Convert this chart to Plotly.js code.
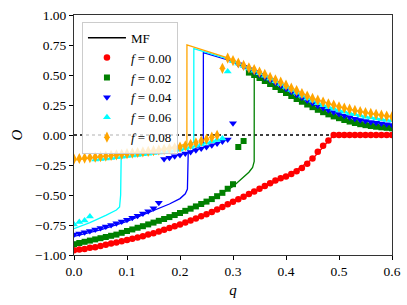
<!DOCTYPE html>
<html>
<head>
<meta charset="utf-8">
<script src="https://cdn.plot.ly/plotly-3.0.1.min.js"></script>
<style>html,body{margin:0;padding:0;background:#fff;}#chart{width:407px;height:305px;}</style>
</head>
<body>
<div id="chart"></div>
<script>
// Simulation points: q grid (shared by all f)
const qGrid = [0.00,0.01,0.02,0.03,0.04,0.05,0.06,0.07,0.08,0.09,
  0.10,0.11,0.12,0.13,0.14,0.15,0.16,0.17,0.18,0.19,
  0.20,0.21,0.22,0.23,0.24,0.25,0.26,0.27,0.28,0.29,
  0.30,0.31,0.32,0.33,0.34,0.35,0.36,0.37,0.38,0.39,
  0.40,0.41,0.42,0.43,0.44,0.45,0.46,0.47,0.48,0.49,
  0.50,0.51,0.52,0.53,0.54,0.55,0.56,0.57,0.58,0.59,0.60];

const oF000 = [-0.96,-0.955,-0.95,-0.94,-0.935,-0.925,-0.915,-0.905,-0.895,-0.885,
  -0.875,-0.865,-0.855,-0.843,-0.83,-0.818,-0.805,-0.79,-0.775,-0.76,
  -0.745,-0.73,-0.713,-0.696,-0.678,-0.66,-0.641,-0.621,-0.6,-0.578,
  -0.556,-0.535,-0.514,-0.492,-0.47,-0.447,-0.424,-0.402,-0.38,-0.36,
  -0.345,-0.325,-0.302,-0.275,-0.24,-0.195,-0.14,-0.09,-0.045,0,
  0,0,0,0,0,0,0,0,0,0,0];

const oF002 = [-0.91,-0.90,-0.89,-0.88,-0.87,-0.86,-0.85,-0.84,-0.83,-0.815,
  -0.80,-0.787,-0.773,-0.76,-0.745,-0.73,-0.715,-0.70,-0.684,-0.667,
  -0.65,-0.632,-0.614,-0.595,-0.575,-0.555,-0.534,-0.51,-0.482,-0.448,
  -0.41,-0.10,-0.05,0.52,0.50,0.475,0.45,0.425,0.40,0.375,
  0.35,0.325,0.30,0.277,0.254,0.232,0.21,0.19,0.172,0.155,
  0.14,0.125,0.112,0.10,0.09,0.082,0.075,0.069,0.064,0.06,0.056];

const oF004 = [-0.83,-0.82,-0.81,-0.80,-0.787,-0.775,-0.763,-0.75,-0.736,-0.721,
  -0.706,-0.69,-0.673,-0.655,-0.635,-0.61,-0.565,-0.2,-0.19,-0.178,
  -0.167,-0.155,-0.142,-0.127,-0.112,-0.1,-0.086,-0.071,-0.055,-0.037,
  0.097,0.59,0.568,0.547,0.525,0.503,0.48,0.457,0.433,0.41,
  0.385,0.36,0.336,0.312,0.288,0.265,0.244,0.225,0.207,0.19,
  0.175,0.161,0.148,0.136,0.126,0.117,0.109,0.102,0.095,0.089,0.083];

const oF006 = [-0.745,-0.725,-0.712,-0.68,-0.205,-0.2,-0.196,-0.191,-0.186,-0.181,
  -0.176,-0.171,-0.166,-0.161,-0.156,-0.151,-0.145,-0.14,-0.134,-0.127,
  -0.12,-0.111,-0.1,-0.089,-0.077,-0.065,-0.053,-0.041,-0.03,0.53,
  0.615,0.595,0.575,0.555,0.535,0.515,0.493,0.47,0.448,0.425,
  0.40,0.375,0.352,0.328,0.305,0.285,0.265,0.248,0.232,0.218,
  0.205,0.193,0.182,0.172,0.162,0.153,0.145,0.138,0.131,0.125,0.12];

const oF008 = [-0.2,-0.196,-0.192,-0.188,-0.184,-0.18,-0.176,-0.171,-0.166,-0.161,
  -0.156,-0.151,-0.146,-0.141,-0.136,-0.131,-0.125,-0.119,-0.113,-0.107,
  -0.1,-0.09,-0.078,-0.065,-0.05,-0.035,-0.018,-0.002,0.556,0.64,
  0.62,0.60,0.58,0.56,0.545,0.525,0.505,0.48,0.46,0.44,
  0.415,0.39,0.37,0.345,0.325,0.305,0.29,0.275,0.26,0.25,
  0.235,0.225,0.215,0.205,0.195,0.187,0.18,0.172,0.165,0.158,0.153];

// Mean-field (MF) curves
const mfQ000 = [0,0.1,0.2,0.3,0.4,0.45,0.47,0.49,0.6];
const mfO000 = [-0.965,-0.878,-0.748,-0.56,-0.35,-0.2,-0.1,0,0];

const mfQ002 = [0,0.1,0.2,0.25,0.3,0.32,0.33,0.337,0.34,0.3401,0.36,0.4,0.45,0.5,0.55,0.6];
const mfO002 = [-0.92,-0.81,-0.66,-0.565,-0.43,-0.35,-0.31,-0.27,-0.22,0.52,0.455,0.355,0.235,0.14,0.083,0.057];

const mfQ004 = [0,0.05,0.1,0.15,0.18,0.2,0.21,0.214,0.2155,0.23,0.244,0.2441,0.29,0.31,0.35,0.4,0.45,0.5,0.55,0.6];
const mfO004 = [-0.845,-0.79,-0.72,-0.63,-0.575,-0.53,-0.49,-0.45,-0.15,-0.11,-0.07,0.686,0.625,0.59,0.503,0.385,0.265,0.175,0.117,0.083];

const mfQ006 = [0,0.03,0.06,0.08,0.086,0.088,0.089,0.12,0.15,0.2,0.226,0.2261,0.29,0.3,0.35,0.4,0.45,0.5,0.55,0.6];
const mfO006 = [-0.78,-0.73,-0.67,-0.625,-0.6,-0.5,-0.19,-0.165,-0.145,-0.1,-0.06,0.72,0.635,0.615,0.515,0.40,0.285,0.205,0.153,0.12];

const mfQ008 = [0,0.1,0.15,0.2,0.213,0.2131,0.29,0.35,0.4,0.45,0.5,0.55,0.6];
const mfO008 = [-0.21,-0.16,-0.13,-0.09,-0.07,0.75,0.643,0.525,0.415,0.305,0.235,0.187,0.153];

const refQ = [0, 0.6];
const refO = [0, 0];

const fLabels = ['<i>f</i> = 0.00','<i>f</i> = 0.02','<i>f</i> = 0.04','<i>f</i> = 0.06','<i>f</i> = 0.08'];
const colors = ['#ff0000','#008000','#0000ff','#00ffff','#ffa500'];
const symbols = ['circle','square','triangle-down','triangle-up','diamond-tall'];
const sizes = [6.5,6,7,7,8];
const simO = [oF000,oF002,oF004,oF006,oF008];
const mfQ = [mfQ000,mfQ002,mfQ004,mfQ006,mfQ008];
const mfO = [mfO000,mfO002,mfO004,mfO006,mfO008];

const traces = [];
traces.push({x: refQ, y: refO, mode:'lines', line:{color:'#000', width:1.3, dash:'dot'}, showlegend:false, hoverinfo:'skip'});
for (let i=0;i<5;i++){
  traces.push({x: mfQ[i], y: mfO[i], mode:'lines', line:{color:colors[i], width:1.3}, showlegend:false});
}
traces.push({x:[null], y:[null], mode:'lines', line:{color:'#000', width:1.5}, name:'MF'});
for (let i=0;i<5;i++){
  traces.push({x: qGrid, y: simO[i], mode:'markers', name: fLabels[i],
    marker:{color:colors[i], symbol:symbols[i], size:sizes[i], line:{width:0}}});
}

const fontFam = 'Liberation Serif, Times New Roman, DejaVu Serif, serif';
const layout = {
  width:407, height:305,
  margin:{l:74, r:15, t:15, b:50},
  paper_bgcolor:'#fff', plot_bgcolor:'#fff',
  font:{family:fontFam, size:13.5, color:'#000'},
  xaxis:{range:[0,0.6], dtick:0.1, tick0:0, tickformat:'.1f', ticks:'outside', ticklen:4, tickcolor:'#000',
    showline:true, mirror:true, linecolor:'#333', linewidth:1, showgrid:false, zeroline:false,
    title:{text:'<i>q</i>', font:{size:15, family:fontFam}, standoff:6}},
  yaxis:{range:[-1,1], dtick:0.25, tick0:0, tickformat:'.2f', ticks:'outside', ticklen:4, tickcolor:'#000',
    showline:true, mirror:true, linecolor:'#333', linewidth:1, showgrid:false, zeroline:false,
    title:{text:'<i>O</i>', font:{size:15, family:fontFam}, standoff:8}},
  legend:{x:0.025, y:0.972, xanchor:'left', yanchor:'top', bgcolor:'rgba(255,255,255,0.8)',
    bordercolor:'#cccccc', borderwidth:1, font:{size:13, family:fontFam}, itemwidth:38, tracegroupgap:0},
  showlegend:true
};
Plotly.newPlot('chart', traces, layout, {staticPlot:true, displayModeBar:false});
</script>
</body>
</html>
